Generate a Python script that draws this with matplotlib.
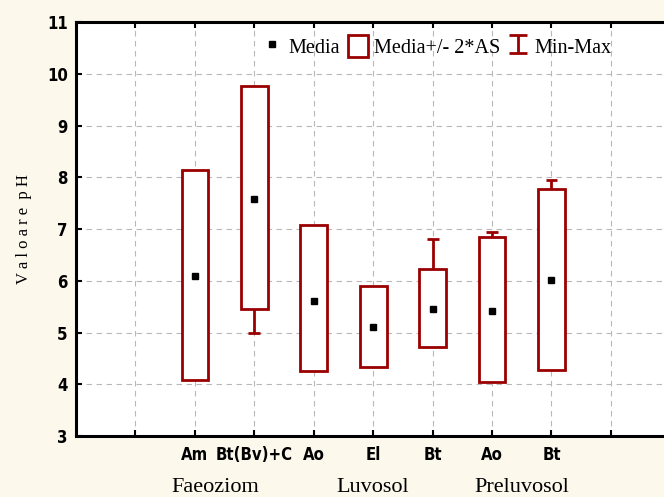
import matplotlib.pyplot as plt
from matplotlib.patches import Patch
from matplotlib.lines import Line2D
from matplotlib.path import Path

# pH per soil horizon: mean, mean +/- 2*SD, min-max
horizons = ['Am', 'Bt(Bv)+C', 'Ao', 'El', 'Bt', 'Ao', 'Bt']
soils = ['Faeoziom', 'Luvosol', 'Preluvosol']
soil_centers = [2.35, 5, 7.5]
media = [6.10, 7.58, 5.60, 5.10, 5.45, 5.42, 6.02]
sd2_low = [4.08, 5.45, 4.25, 4.33, 4.72, 4.05, 4.27]
sd2_high = [8.15, 9.77, 7.08, 5.90, 6.23, 6.85, 7.77]
val_min = [4.90, 5.00, 4.90, 4.60, 4.90, 4.50, 4.60]
val_max = [7.20, 9.00, 6.50, 5.70, 6.80, 6.95, 7.95]

red = '#9B0000'
serif = ['Liberation Serif', 'DejaVu Serif']
tick_font = dict(fontfamily='DejaVu Sans', fontstretch='condensed',
                 fontweight='bold', fontsize=12)

fig = plt.figure(figsize=(6.64, 4.97), dpi=100, facecolor='#FCF8EC')
ax = fig.add_axes([0.1145, 0.1227, 0.895, 0.833])
ax.set_facecolor('white')

x = list(range(2, 2 + len(horizons)))

# whiskers sit under the boxes so only the part outside shows
ax.vlines(x, val_min, val_max, color=red, lw=2, zorder=2)
ax.hlines(val_min, [p - 0.1 for p in x], [p + 0.1 for p in x], color=red, lw=2, zorder=2)
ax.hlines(val_max, [p - 0.1 for p in x], [p + 0.1 for p in x], color=red, lw=2, zorder=2)

heights = [h - l for h, l in zip(sd2_high, sd2_low)]
ax.bar(x, heights, bottom=sd2_low, width=0.45, facecolor='white',
       edgecolor=red, linewidth=2, zorder=3)
ax.plot(x, media, 's', color='black', markersize=5, zorder=4)

ax.set_xlim(0, 10)
ax.set_ylim(3, 11)
ax.set_xticks(range(1, 10))
ax.set_xticklabels([''] + horizons + [''], **tick_font)
ax.set_yticks(range(3, 12))
ax.set_yticklabels([str(v) for v in range(3, 12)], **tick_font)
ax.tick_params(axis='both', direction='in', length=4, width=1.5,
               top=True)
ax.tick_params(axis='x', pad=7)
ax.tick_params(axis='y', pad=6)
ax.grid(True, ls=(0, (5, 4)), color='#b8b8b8', lw=0.8)
ax.set_axisbelow(True)

for side in ['left', 'bottom', 'top', 'right']:
    ax.spines[side].set_linewidth(2.2)

for name, cx in zip(soils, soil_centers):
    ax.text(cx, -0.125, name, transform=ax.get_xaxis_transform(),
            ha='center', va='center', fontfamily=serif, fontsize=16)

ax.set_ylabel('V a l o a r e  p H', fontfamily=serif, fontsize=12, labelpad=11)

i_marker = Path([(-1, 1), (1, 1), (0, 1), (0, -1), (-1, -1), (1, -1)],
                [Path.MOVETO, Path.LINETO, Path.MOVETO, Path.LINETO,
                 Path.MOVETO, Path.LINETO])
handles = [
    Line2D([], [], marker='s', ls='', color='black', markersize=4),
    Patch(facecolor='white', edgecolor=red, linewidth=2),
    Line2D([], [], marker=i_marker, ls='', markersize=13, markeredgewidth=2,
           markeredgecolor=red, fillstyle='none'),
]
ax.legend(handles, ['Media', 'Media+/- 2*AS', 'Min-Max'], ncol=3,
          loc='center', bbox_to_anchor=(0.607, 0.94), frameon=False,
          prop={'family': serif, 'size': 14.5}, handlelength=1.0,
          handletextpad=0.3, columnspacing=0.4, handleheight=1.3)

fig.savefig('out.png', dpi=100, facecolor=fig.get_facecolor())
